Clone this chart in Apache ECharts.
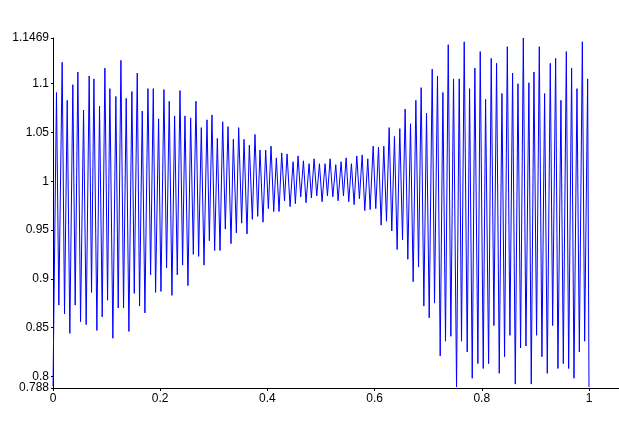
<!DOCTYPE html>
<html>
<head>
<meta charset="utf-8">
<script src="https://cdn.jsdelivr.net/npm/echarts@6/dist/echarts.min.js"></script>
<style>
html,body{margin:0;padding:0;background:#fff;}
#chart{width:619px;height:425px;}
</style>
</head>
<body>
<div id="chart"></div>
<script>
// x positions of the samples
const xs = [
  0, 0.0065, 0.0109, 0.0171, 0.0215, 0.0265, 0.0314, 0.0370, 0.0414, 0.0464, 0.0514,
  0.0570, 0.0619, 0.0675, 0.0719, 0.0763, 0.0819, 0.0868, 0.0918, 0.0968, 0.1018,
  0.1061, 0.1117, 0.1173, 0.1217, 0.1267, 0.1316, 0.1366, 0.1416, 0.1472, 0.1516,
  0.1572, 0.1615, 0.1665, 0.1715, 0.1771, 0.1821, 0.1871, 0.1914, 0.1970, 0.2014,
  0.2070, 0.2119, 0.2169, 0.2219, 0.2269, 0.2319, 0.2369, 0.2418, 0.2462, 0.2518,
  0.2568, 0.2618, 0.2667, 0.2717, 0.2767, 0.2817, 0.2873, 0.2917, 0.2966, 0.3016,
  0.3066, 0.3116, 0.3166, 0.3215, 0.3265, 0.3321, 0.3365, 0.3421, 0.3464, 0.3520,
  0.3564, 0.3620, 0.3663, 0.3719, 0.3769, 0.3819, 0.3862, 0.3918, 0.3968, 0.4018,
  0.4068, 0.4118, 0.4167, 0.4217, 0.4267, 0.4319, 0.4367, 0.4423, 0.4479, 0.4522,
  0.4572, 0.4622, 0.4672, 0.4721, 0.4778, 0.4821, 0.4871, 0.4921, 0.4971, 0.5020,
  0.5076, 0.5120, 0.5170, 0.5220, 0.5276, 0.5319, 0.5375, 0.5419, 0.5469, 0.5518,
  0.5568, 0.5618, 0.5668, 0.5717, 0.5768, 0.5817, 0.5873, 0.5917, 0.5973, 0.6022,
  0.6073, 0.6122, 0.6172, 0.6222, 0.6272, 0.6321, 0.6371, 0.6421, 0.6470, 0.6521,
  0.6570, 0.6620, 0.6670, 0.6720, 0.6770, 0.6820, 0.6869, 0.6919, 0.6969, 0.7019,
  0.7075, 0.7118, 0.7174, 0.7224, 0.7274, 0.7323, 0.7374, 0.7423, 0.7473, 0.7529,
  0.7579, 0.7622, 0.7672, 0.7728, 0.7772, 0.7822, 0.7871, 0.7927, 0.7971, 0.8027,
  0.8071, 0.8127, 0.8176, 0.8226, 0.8276, 0.8326, 0.8376, 0.8425, 0.8476, 0.8525,
  0.8575, 0.8625, 0.8675, 0.8724, 0.8775, 0.8824, 0.8879, 0.8923, 0.8973, 0.9022,
  0.9073, 0.9122, 0.9172, 0.9222, 0.9278, 0.9322, 0.9378, 0.9421, 0.9477, 0.9521,
  0.9577, 0.9621, 0.9676, 0.9720, 0.9776, 0.9820, 0.9876, 0.9919, 0.9975, 1.0
];
// signal values at those positions
const ys = [
  0.790, 1.091, 0.873, 1.122, 0.864, 1.083, 0.844, 1.099, 0.873, 1.112, 0.856,
  1.073, 0.853, 1.108, 0.886, 1.105, 0.847, 1.077, 0.861, 1.116, 0.878,
  1.095, 0.839, 1.087, 0.870, 1.124, 0.870, 1.085, 0.846, 1.092, 0.885,
  1.111, 0.872, 1.072, 0.865, 1.095, 0.904, 1.095, 0.886, 1.064, 0.887,
  1.094, 0.911, 1.082, 0.883, 1.067, 0.904, 1.093, 0.914, 1.067, 0.893,
  1.065, 0.925, 1.082, 0.923, 1.055, 0.914, 1.063, 0.939, 1.068, 0.929,
  1.044, 0.929, 1.061, 0.951, 1.056, 0.936, 1.043, 0.947, 1.055, 0.957,
  1.043, 0.946, 1.037, 0.961, 1.048, 0.964, 1.032, 0.958, 1.032, 0.972,
  1.036, 0.969, 1.024, 0.969, 1.029, 0.980, 1.028, 0.974, 1.020, 0.977,
  1.026, 0.984, 1.021, 0.978, 1.018, 0.983, 1.023, 0.985, 1.018, 0.979,
  1.018, 0.985, 1.023, 0.984, 1.017, 0.980, 1.020, 0.985, 1.024, 0.979,
  1.018, 0.976, 1.026, 0.982, 1.027, 0.970, 1.023, 0.971, 1.036, 0.972,
  1.035, 0.955, 1.036, 0.959, 1.055, 0.949, 1.046, 0.930, 1.054, 0.940,
  1.074, 0.920, 1.059, 0.897, 1.083, 0.912, 1.096, 0.872, 1.070, 0.860,
  1.115, 0.875, 1.108, 0.821, 1.091, 0.836, 1.140, 0.841, 1.105, 0.789,
  1.105, 0.836, 1.143, 0.825, 1.095, 0.798, 1.116, 0.813, 1.133, 0.808,
  1.084, 0.813, 1.126, 0.852, 1.121, 0.803, 1.090, 0.820, 1.138, 0.842,
  1.111, 0.792, 1.100, 0.829, 1.1469, 0.831, 1.101, 0.792, 1.112, 0.842,
  1.138, 0.820, 1.090, 0.803, 1.121, 0.852, 1.126, 0.808, 1.083, 0.813,
  1.133, 0.808, 1.116, 0.798, 1.095, 0.825, 1.143, 0.836, 1.105, 0.789
];
// tick labels
const xTicks = [0, 0.2, 0.4, 0.6, 0.8, 1];
const yTicks = [0.8, 0.85, 0.9, 0.95, 1, 1.05, 1.1, 1.1469];
const yMinTick = [0.788];

const points = xs.map((x, i) => [x, ys[i]]);
const fmt = v => String(parseFloat(Number(v).toFixed(4)));
const labelFont = { color: '#000', fontSize: 12, fontFamily: '"Liberation Sans", Arial, sans-serif' };
const Y_MIN = 0.788, Y_MAX = 1.1469;

const chart = echarts.init(document.getElementById('chart'), null, { renderer: 'canvas' });
chart.setOption({
  animation: false,
  backgroundColor: '#fff',
  grid: { left: 53, right: 0, top: 38, bottom: 37 },
  xAxis: {
    type: 'value',
    min: 0,
    max: 1.056,
    splitLine: { show: false },
    axisLine: { show: true, lineStyle: { color: '#000', width: 1 } },
    axisTick: { show: true, length: 3, customValues: xTicks, lineStyle: { color: '#000' } },
    axisLabel: Object.assign({ margin: 5, customValues: xTicks, formatter: fmt,
      showMinLabel: true, showMaxLabel: true }, labelFont)
  },
  yAxis: [{
    type: 'value',
    min: Y_MIN,
    max: Y_MAX,
    splitLine: { show: false },
    axisLine: { show: true, lineStyle: { color: '#000', width: 1 } },
    axisTick: { show: true, length: 2, customValues: yTicks, lineStyle: { color: '#000' } },
    axisLabel: Object.assign({ margin: 4, customValues: yTicks, formatter: fmt,
      showMinLabel: true, showMaxLabel: true }, labelFont)
  }, {
    type: 'value',
    position: 'left',
    min: Y_MIN,
    max: Y_MAX,
    splitLine: { show: false },
    axisLine: { show: false },
    axisTick: { show: true, length: 2, customValues: yMinTick, lineStyle: { color: '#000' } },
    axisLabel: Object.assign({ margin: 4, customValues: yMinTick, formatter: fmt,
      showMinLabel: true }, labelFont)
  }],
  series: [{
    type: 'line',
    yAxisIndex: 0,
    data: points,
    showSymbol: false,
    symbol: 'none',
    lineStyle: { color: '#0000ff', width: 1 },
    clip: false
  }]
});
</script>
</body>
</html>
